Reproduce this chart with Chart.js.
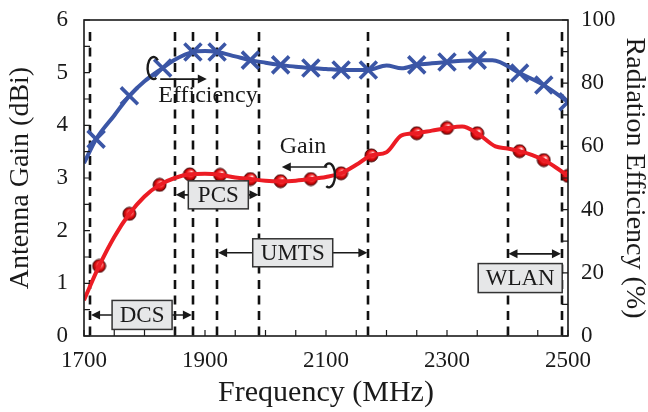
<!DOCTYPE html>
<html>
<head>
<meta charset="utf-8">
<script src="https://cdn.jsdelivr.net/npm/chart.js@4.4.1/dist/chart.umd.min.js"></script>
<style>
  html, body { margin: 0; padding: 0; background: #fff; }
  canvas { display: block; }
</style>
</head>
<body>
<canvas id="chart" width="648" height="412"></canvas>
<script>
// gain curve (dBi) and measured gain points
const gainLineFreq = [1700, 1725, 1750, 1775, 1800, 1825, 1850, 1875, 1900, 1925, 1950, 1975, 2000, 2025, 2050, 2075, 2100, 2125, 2150, 2175, 2200, 2225, 2250, 2275, 2300, 2325, 2350, 2380, 2400, 2420, 2440, 2460, 2480, 2500];
const gainLine = [0.68, 1.33, 1.88, 2.32, 2.65, 2.87, 3.0, 3.07, 3.08, 3.06, 3.01, 2.98, 2.95, 2.94, 2.95, 2.98, 3.02, 3.09, 3.25, 3.43, 3.49, 3.81, 3.85, 3.9, 3.95, 3.98, 3.85, 3.6, 3.56, 3.51, 3.44, 3.34, 3.2, 3.04];
const gainMarkFreq = [1725, 1775, 1825, 1875, 1925, 1975, 2025, 2075, 2125, 2175, 2250, 2300, 2350, 2420, 2460, 2500];
const gainMark = [1.33, 2.32, 2.87, 3.07, 3.06, 2.98, 2.94, 2.98, 3.09, 3.43, 3.85, 3.95, 3.85, 3.51, 3.34, 3.04];

// efficiency curve (%) and measured efficiency points
const effLineFreq = [1700, 1720, 1750, 1775, 1800, 1830, 1850, 1880, 1900, 1920, 1950, 1975, 2000, 2025, 2050, 2075, 2100, 2125, 2150, 2170, 2200, 2225, 2250, 2275, 2300, 2325, 2350, 2375, 2420, 2460, 2500];
const effLine = [54.7, 62.3, 69.8, 76, 80.6, 84.8, 87.4, 89.9, 90.2, 89.9, 88.5, 87.3, 86.5, 85.8, 85.2, 84.8, 84.5, 84.2, 84.2, 84.2, 85.6, 84.7, 85.8, 86.3, 86.7, 87.1, 87.3, 87.3, 83.2, 79.4, 74.1];
const effMarkFreq = [1720, 1775, 1830, 1880, 1920, 1975, 2025, 2075, 2125, 2170, 2250, 2300, 2350, 2420, 2460, 2500];
const effMark = [62.3, 76, 84.8, 89.9, 89.9, 87.3, 85.8, 84.8, 84.2, 84.2, 85.8, 86.7, 87.3, 83.2, 79.4, 74.1];

// frequency bands (MHz)
const bandNames = ['DCS', 'PCS', 'UMTS', 'WLAN'];
const bandStart = [1710, 1850, 1920, 2400];
const bandEnd = [1880, 1990, 2170, 2490];

const xTicks = [1700, 1900, 2100, 2300, 2500];
const gainTicks = [0, 1, 2, 3, 4, 5, 6];
const effTicks = [0, 20, 40, 60, 80, 100];

const FONT = "'Liberation Serif', 'Times New Roman', serif";
const INK = '#1a1a1a';
const BLUE = '#3b56a6';
const RED = '#ec1c24';

const pts = (xs, ys) => xs.map((x, i) => ({ x: x, y: ys[i] }));

function makeSphere(r) {
  const c = document.createElement('canvas');
  const s = Math.ceil(r * 2 + 2);
  c.width = c.height = s;
  const g = c.getContext('2d');
  const m = s / 2;
  const grad = g.createRadialGradient(m + r * 0.3, m - r * 0.35, 0.4, m, m, r);
  grad.addColorStop(0, '#ffffff');
  grad.addColorStop(0.25, '#ff7070');
  grad.addColorStop(0.65, '#e30d10');
  grad.addColorStop(1, '#8a0000');
  g.fillStyle = grad;
  g.beginPath();
  g.arc(m, m, r, 0, Math.PI * 2);
  g.fill();
  g.strokeStyle = '#3a0000';
  g.lineWidth = 0.9;
  g.stroke();
  return c;
}

// where the band labels sit (arrow height and box centre in axis units)
const bandLabelPos = [
  { arrowY: 0.4, boxX: 1796, boxY: 0.4, w: 60, h: 29 },
  { arrowY: 2.68, boxX: 1922, boxY: 2.68, w: 60, h: 28 },
  { arrowY: 1.58, boxX: 2045, boxY: 1.58, w: 80, h: 28 },
  { arrowY: 1.56, boxX: 2421, boxY: 1.1, w: 84, h: 29 }
];

function arrowHead(ctx, x, y, dir) {
  ctx.beginPath();
  ctx.moveTo(x, y);
  ctx.lineTo(x - dir * 9, y - 4.5);
  ctx.lineTo(x - dir * 9, y + 4.5);
  ctx.closePath();
  ctx.fill();
}

const decorPlugin = {
  id: 'decor',
  beforeDatasetsDraw(chart) {
    const ctx = chart.ctx, x = chart.scales.x, a = chart.chartArea;
    const edges = [...new Set(bandStart.concat(bandEnd))];
    ctx.save();
    ctx.strokeStyle = '#111';
    ctx.lineWidth = 2.6;
    ctx.setLineDash([9, 6.5]);
    edges.forEach(f => {
      const px = Math.round(x.getPixelForValue(f));
      ctx.beginPath();
      ctx.moveTo(px, a.top + 12);
      ctx.lineTo(px, a.bottom);
      ctx.stroke();
    });
    ctx.restore();
  },
  afterDatasetsDraw(chart) {
    const ctx = chart.ctx, x = chart.scales.x, y = chart.scales.y, y1 = chart.scales.y1, a = chart.chartArea;
    ctx.save();

    // band arrows and boxes
    bandNames.forEach((name, i) => {
      const p = bandLabelPos[i];
      const x0 = x.getPixelForValue(bandStart[i]), x1 = x.getPixelForValue(bandEnd[i]);
      const ay = y.getPixelForValue(p.arrowY);
      ctx.strokeStyle = INK;
      ctx.fillStyle = INK;
      ctx.lineWidth = 1.6;
      ctx.beginPath();
      ctx.moveTo(x0 + 4, ay);
      ctx.lineTo(x1 - 4, ay);
      ctx.stroke();
      arrowHead(ctx, x0 + 1, ay, -1);
      arrowHead(ctx, x1 - 1, ay, 1);
      const bx = x.getPixelForValue(p.boxX), by = y.getPixelForValue(p.boxY);
      ctx.fillStyle = '#e6e7e8';
      ctx.fillRect(bx - p.w / 2, by - p.h / 2, p.w, p.h);
      ctx.strokeStyle = '#333';
      ctx.lineWidth = 1.5;
      ctx.strokeRect(bx - p.w / 2, by - p.h / 2, p.w, p.h);
      ctx.fillStyle = INK;
      ctx.font = '23px ' + FONT;
      ctx.textAlign = 'center';
      ctx.textBaseline = 'middle';
      ctx.fillText(name, bx, by + 1);
    });

    // series callouts
    ctx.fillStyle = INK;
    ctx.strokeStyle = INK;
    ctx.font = '24px ' + FONT;
    ctx.textAlign = 'center';
    ctx.textBaseline = 'middle';
    ctx.fillText('Efficiency', x.getPixelForValue(1905), y1.getPixelForValue(76));
    const eAy = y1.getPixelForValue(81.3);
    ctx.lineWidth = 1.6;
    ctx.beginPath();
    ctx.moveTo(x.getPixelForValue(1826), eAy);
    ctx.lineTo(x.getPixelForValue(1896), eAy);
    ctx.stroke();
    arrowHead(ctx, x.getPixelForValue(1903), eAy, 1);
    ctx.lineWidth = 2.4;
    ctx.beginPath();
    ctx.ellipse(x.getPixelForValue(1815), y1.getPixelForValue(84.8), 6, 11, 0, 0.35 * Math.PI, 1.75 * Math.PI);
    ctx.stroke();

    ctx.fillText('Gain', x.getPixelForValue(2062), y.getPixelForValue(3.59));
    const gAy = y.getPixelForValue(3.21);
    ctx.lineWidth = 1.6;
    ctx.beginPath();
    ctx.moveTo(x.getPixelForValue(2102), gAy);
    ctx.lineTo(x.getPixelForValue(2034), gAy);
    ctx.stroke();
    arrowHead(ctx, x.getPixelForValue(2027), gAy, -1);
    ctx.lineWidth = 2.4;
    ctx.beginPath();
    ctx.ellipse(x.getPixelForValue(2105), y.getPixelForValue(3.05), 6, 12, 0, -0.75 * Math.PI, 0.65 * Math.PI);
    ctx.stroke();

    // frame and inward ticks
    ctx.strokeStyle = INK;
    ctx.lineWidth = 1.6;
    ctx.strokeRect(a.left, a.top, a.right - a.left, a.bottom - a.top);
    ctx.lineWidth = 1.2;
    ctx.beginPath();
    for (let v = 0; v <= 6; v += 0.5) {
      const py = y.getPixelForValue(v);
      ctx.moveTo(a.left, py); ctx.lineTo(a.left + 6, py);
    }
    for (let v = 0; v <= 100; v += 10) {
      const py = y1.getPixelForValue(v);
      ctx.moveTo(a.right, py); ctx.lineTo(a.right - 6, py);
    }
    for (let f = 1700; f <= 2500; f += 50) {
      const px = x.getPixelForValue(f);
      ctx.moveTo(px, a.bottom); ctx.lineTo(px, a.bottom - 6);
    }
    ctx.stroke();

    // axis titles
    ctx.fillStyle = INK;
    ctx.font = '28px ' + FONT;
    ctx.textAlign = 'center';
    ctx.textBaseline = 'middle';
    ctx.save();
    ctx.translate(21, (a.top + a.bottom) / 2);
    ctx.rotate(-Math.PI / 2);
    ctx.fillText('Antenna Gain (dBi)', 0, 0);
    ctx.restore();
    ctx.save();
    ctx.translate(634, (a.top + a.bottom) / 2);
    ctx.rotate(Math.PI / 2);
    ctx.fillText('Radiation Efficiency (%)', 0, 0);
    ctx.restore();
    ctx.font = '30px ' + FONT;
    ctx.fillText('Frequency (MHz)', (a.left + a.right) / 2, 393);
    ctx.restore();
  }
};

const tickFont = { family: FONT, size: 23 };
const sphere = makeSphere(6.5);

function fixBox(w, h) {
  return s => {
    if (w) s.width = w;
    if (h) s.height = h;
    s.paddingTop = 0; s.paddingBottom = 0; s.paddingLeft = 0; s.paddingRight = 0;
  };
}

new Chart(document.getElementById('chart'), {
  type: 'line',
  data: {
    datasets: [
      { data: pts(effMarkFreq, effMark), yAxisID: 'y1', showLine: false, pointStyle: 'crossRot', pointRadius: 12, borderColor: BLUE, pointBorderWidth: 3.6, borderWidth: 3.6 },
      { data: pts(effLineFreq, effLine), yAxisID: 'y1', borderColor: BLUE, borderWidth: 4, pointRadius: 0, cubicInterpolationMode: 'monotone' },
      { data: pts(gainLineFreq, gainLine), yAxisID: 'y', borderColor: RED, borderWidth: 4, pointRadius: 0, cubicInterpolationMode: 'monotone' },
      { data: pts(gainMarkFreq, gainMark), yAxisID: 'y', showLine: false, pointStyle: sphere, pointRadius: 7 }
    ]
  },
  options: {
    responsive: false,
    animation: false,
    events: [],
    layout: { padding: { top: 20, left: 0, right: 0, bottom: 0 } },
    plugins: { legend: { display: false }, tooltip: { enabled: false } },
    scales: {
      x: {
        type: 'linear', min: 1700, max: 2500,
        afterFit: fixBox(0, 76),
        afterBuildTicks: s => { s.ticks = xTicks.map(v => ({ value: v })); },
        grid: { display: false, drawTicks: false },
        border: { display: false },
        ticks: { font: tickFont, color: INK, padding: 11, maxRotation: 0, callback: v => String(v) }
      },
      y: {
        position: 'left', min: 0, max: 6,
        afterFit: fixBox(84, 0),
        afterBuildTicks: s => { s.ticks = gainTicks.map(v => ({ value: v })); },
        grid: { display: false, drawTicks: false },
        border: { display: false },
        ticks: { font: tickFont, color: INK, padding: 16 }
      },
      y1: {
        position: 'right', min: 0, max: 100,
        afterFit: fixBox(80, 0),
        afterBuildTicks: s => { s.ticks = effTicks.map(v => ({ value: v })); },
        grid: { display: false, drawTicks: false },
        border: { display: false },
        ticks: { font: tickFont, color: INK, padding: 13 }
      }
    }
  },
  plugins: [decorPlugin]
});
</script>
</body>
</html>
